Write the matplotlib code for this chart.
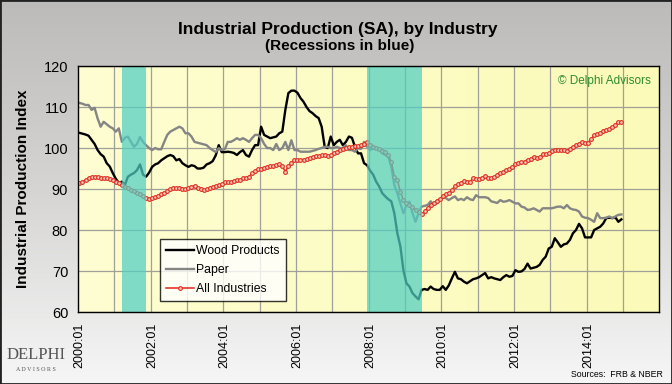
import numpy as np
import matplotlib.pyplot as plt
from matplotlib.patches import Rectangle

plt.rcParams['font.family'] = ['Liberation Sans', 'DejaVu Sans']

# monthly index values, 2000:01 .. 2014:12
wood = [
    103.7, 103.5, 103.3, 103.0, 102.0, 101.0, 99.5, 98.5, 97.9, 96.3, 95.5, 93.9,
    92.5, 91.5, 91.8, 91.0, 93.0, 93.5, 93.9, 94.6, 96.0, 93.5, 93.0, 94.0,
    95.4, 96.0, 96.3, 97.0, 97.5, 98.0, 98.3, 98.0, 97.0, 97.3, 96.3, 95.8,
    95.4, 95.8, 95.6, 95.0, 95.0, 95.2, 96.0, 96.3, 96.8, 98.2, 100.7, 99.0,
    99.0, 99.1, 99.0, 98.8, 98.3, 99.0, 99.5, 98.3, 97.9, 99.5, 100.7, 100.7,
    105.2, 103.2, 102.8, 102.4, 102.6, 102.8, 103.6, 104.0, 109.3, 113.4, 114.0, 114.0,
    113.5, 112.2, 111.3, 110.0, 109.0, 108.5, 107.8, 107.3, 105.2, 100.3, 100.0, 102.8,
    100.7, 101.5, 102.0, 100.7, 101.5, 102.8, 102.5, 100.3, 98.7, 98.7, 96.3, 95.8,
    94.5, 93.5, 91.8, 90.6, 89.0, 88.2, 87.5, 87.0, 84.1, 79.2, 76.0, 70.2,
    67.0, 66.2, 64.6, 63.8, 63.1, 65.4, 65.6, 65.4, 66.2, 65.6, 65.4, 65.4,
    66.3, 65.4, 66.5, 68.2, 69.8, 68.2, 68.0, 67.4, 67.0, 67.5, 68.0, 68.2,
    68.5, 69.0, 69.5, 68.2, 68.5, 68.2, 68.0, 67.8, 68.5, 69.0, 68.6, 68.8,
    70.2, 69.8, 69.9, 70.5, 71.8, 70.6, 70.8, 71.0, 71.5, 72.7, 73.5, 75.5,
    75.9, 78.0, 77.0, 75.9, 76.5, 76.7, 77.6, 79.2, 80.0, 81.5, 80.4, 78.2,
    78.2, 78.2, 80.0, 80.4, 80.8, 81.6, 82.9, 83.0, 82.9, 83.1, 82.0, 82.6,
]
paper = [
    111.0, 110.8, 110.5, 110.5, 109.3, 109.8, 107.2, 105.2, 106.4, 105.8, 105.2, 104.8,
    104.0, 104.8, 101.5, 102.5, 102.8, 101.5, 100.3, 101.0, 102.7, 101.5, 100.7, 100.0,
    99.5, 100.0, 99.7, 99.7, 101.5, 103.2, 104.0, 104.4, 104.8, 105.2, 104.8, 103.6,
    103.6, 102.8, 101.5, 101.3, 101.1, 100.9, 100.7, 100.0, 99.5, 99.0, 100.0, 99.5,
    99.7, 101.5, 101.5, 101.9, 102.4, 102.0, 102.4, 102.0, 101.5, 102.4, 103.2, 103.2,
    102.4, 101.0, 100.0, 100.0, 99.5, 101.0, 99.5, 100.0, 101.5, 99.5, 101.9, 99.5,
    99.5, 99.1, 99.1, 99.1, 99.1, 99.3, 99.5, 99.8, 100.0, 100.3, 100.3, 100.0,
    100.0, 100.3, 100.0, 100.0, 100.7, 99.5, 99.5, 99.1, 100.0, 99.8, 101.5, 100.3,
    99.5, 100.0, 99.8, 99.8, 98.7, 98.3, 97.9, 95.5, 91.0, 89.0, 86.5, 84.1,
    86.0, 86.9, 84.1, 82.0, 84.1, 85.7, 85.9, 86.1, 87.0, 86.1, 86.5, 87.3,
    88.2, 87.8, 87.3, 87.8, 88.2, 87.3, 87.6, 87.3, 88.0, 87.5, 87.3, 88.5,
    88.0, 88.0, 88.0, 87.8, 87.0, 86.8, 86.6, 87.3, 86.9, 87.0, 87.3, 86.9,
    86.5, 86.5, 85.7, 85.5, 84.9, 85.0, 85.3, 84.9, 84.5, 85.3, 85.3, 85.3,
    85.3, 85.5, 85.7, 85.7, 85.3, 86.1, 85.3, 85.0, 84.9, 84.5, 83.3, 83.0,
    82.9, 82.5, 82.0, 84.1, 82.9, 82.9, 83.0, 83.3, 82.9, 83.3, 83.7, 83.8,
]
all_ind = [
    91.4, 91.8, 92.2, 92.6, 93.0, 93.0, 93.0, 92.8, 92.7, 92.6, 92.4, 92.1,
    91.8, 91.4, 91.0, 90.6, 90.2, 89.8, 89.4, 89.0, 88.7, 88.3, 87.8, 87.5,
    87.7, 88.0, 88.3, 88.7, 89.1, 89.5, 89.9, 90.3, 90.2, 90.2, 90.0, 89.9,
    90.2, 90.5, 90.8, 90.3, 89.9, 89.8, 90.0, 90.3, 90.6, 90.8, 91.0, 91.2,
    91.6, 91.6, 91.8, 92.0, 92.3, 92.2, 92.6, 92.8, 93.0, 93.8, 94.3, 94.8,
    95.0, 95.2, 95.4, 95.6, 95.6, 95.8, 96.1, 95.6, 94.2, 95.6, 96.3, 97.0,
    97.0, 97.2, 97.2, 97.3, 97.6, 97.8, 98.0, 98.0, 98.2, 98.2, 98.0, 98.3,
    98.9, 99.0, 99.5, 99.7, 100.0, 100.2, 100.3, 100.5, 100.5, 100.7, 101.1, 101.5,
    100.8, 100.3, 100.0, 99.7, 99.3, 99.1, 98.3, 96.7, 93.0, 92.2, 89.3, 87.3,
    86.6, 86.1, 85.5, 84.9, 84.3, 83.8, 84.6, 85.4, 86.2, 86.5, 87.2, 87.5,
    88.3, 88.7, 89.1, 89.8, 90.7, 91.2, 91.5, 91.9, 91.8, 91.8, 92.6, 92.5,
    92.4, 92.8, 93.2, 92.8, 92.6, 93.0, 93.4, 93.8, 94.2, 94.6, 95.0, 95.4,
    96.0, 96.4, 96.6, 96.7, 97.2, 97.4, 97.9, 97.5, 97.8, 98.5, 98.6, 98.7,
    99.2, 99.5, 99.6, 99.6, 99.5, 99.3, 99.8, 100.3, 100.7, 101.1, 101.5, 101.3,
    101.3, 102.2, 103.2, 103.5, 103.7, 104.2, 104.4, 104.6, 105.2, 105.6, 106.4, 106.3,
]
tick_labels = ['2000:01', '2002:01', '2004:01', '2006:01',
               '2008:01', '2010:01', '2012:01', '2014:01']
recessions = [(14, 22), (95, 113)]  # month indices (2001:03-2001:11, 2007:12-2009:06)
n_months = 192  # axis runs 2000:01 .. 2015:12

fig = plt.figure(figsize=(6.72, 3.84), dpi=100)

# gray figure gradient
bg = fig.add_axes([0, 0, 1, 1], zorder=-10)
grad = np.linspace(0, 1, 256).reshape(-1, 1)
bg.imshow(grad, aspect='auto', cmap=plt.matplotlib.colors.LinearSegmentedColormap.from_list(
    'g', ['#bdbbb9', '#d6d5d4', '#f6f6f6']), extent=[0, 1, 0, 1])
bg.set_axis_off()
fig.patches.append(Rectangle((0, 0), 1, 1, transform=fig.transFigure, fill=False,
                             edgecolor='#222222', linewidth=2))

ax = fig.add_axes([0.116, 0.1875, 0.865, 0.6405])
x = np.arange(len(wood))

# yellow plot background
ygrad = np.linspace(0, 1, 256).reshape(1, -1)
ax.imshow(ygrad, aspect='auto', extent=[-0.5, n_months - 0.5, 60, 120], zorder=0,
          cmap=plt.matplotlib.colors.LinearSegmentedColormap.from_list(
              'y', ['#fefed2', '#fbfab8']))

ax.plot(x, wood, color='black', lw=1.7, zorder=3, label='Wood Products')
ax.plot(x, paper, color='#858585', lw=1.7, zorder=3, label='Paper')
ax.plot(x, all_ind, color='#e8211c', lw=1.1, marker='o', ms=2.7, mew=0.8,
        mfc='#f5c8b8', mec='#e03020', zorder=4, label='All Industries')

for a, b in recessions:
    ax.axvspan(a, b, color='#50cfc3', alpha=0.72, lw=0, zorder=5)

ax.set_xlim(-0.5, n_months - 0.5)
ax.set_ylim(60, 120)
ax.set_yticks(range(60, 121, 10))
ax.set_xticks(np.arange(11.5, n_months - 1, 12), minor=True)
ax.set_xticks(np.arange(0, 180, 24))
ax.set_xticklabels(tick_labels, rotation=90, fontsize=9, va='top')
ax.tick_params(axis='x', which='both', length=0, pad=8)
ax.tick_params(axis='y', length=0, labelsize=10.5, pad=7)
ax.grid(True, which='minor', axis='x', color='#a0a098', lw=0.9, zorder=1)
ax.grid(True, which='major', axis='y', color='#a0a098', lw=0.9, zorder=1)
for s in ax.spines.values():
    s.set_color('black')
    s.set_linewidth(1)
    s.set_zorder(6)

ax.set_ylabel('Industrial Production Index', fontsize=11, fontweight='bold', labelpad=10)

leg = ax.legend(loc='lower left', bbox_to_anchor=(0.13, 0.02), fontsize=8.8,
                frameon=True, fancybox=False, handlelength=2.3, borderpad=0.5,
                labelspacing=0.55, handletextpad=0.2)
leg.get_frame().set_edgecolor('black')
leg.get_frame().set_linewidth(1)
leg.set_zorder(10)

ax.text(0.985, 0.965, '\u00a9 Delphi Advisors', transform=ax.transAxes, ha='right',
        va='top', fontsize=8.5, color='#2e8b2e', zorder=7)

fig.text(0.503, 0.922, 'Industrial Production (SA), by Industry', ha='center',
         va='center', fontsize=12.5, fontweight='bold',
         family=['Liberation Sans Narrow', 'Liberation Sans'])
fig.text(0.506, 0.880, '(Recessions in blue)', ha='center', va='center',
         fontsize=11, fontweight='bold',
         family=['Liberation Sans Narrow', 'Liberation Sans'])
fig.text(0.987, 0.014, 'Sources:  FRB & NBER', ha='right', va='bottom', fontsize=6.3)

# Delphi logo approximation
fig.text(0.054, 0.055, 'DELPHI', ha='center', va='bottom', fontsize=12,
         family='Liberation Serif', color='#555555')
fig.text(0.054, 0.032, 'A D V I S O R S', ha='center', va='bottom', fontsize=4.3,
         family='Liberation Serif', color='#555555')

fig.savefig('out.png', dpi=100)
